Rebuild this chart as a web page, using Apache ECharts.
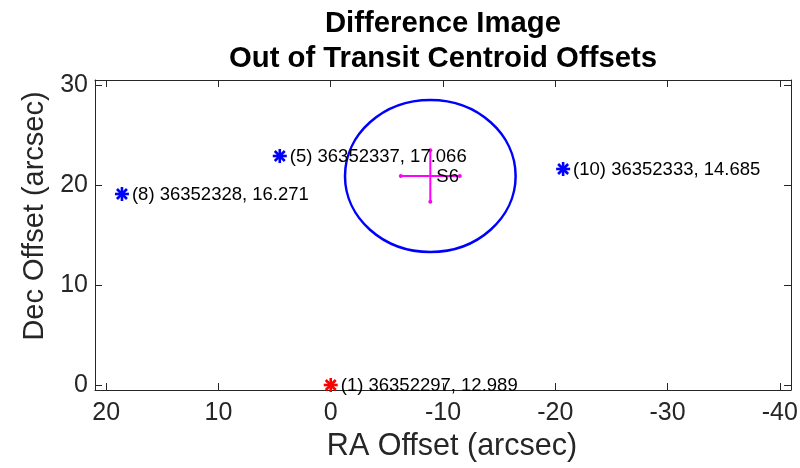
<!DOCTYPE html>
<html><head><meta charset="utf-8">
<script src="https://cdn.jsdelivr.net/npm/echarts@6/dist/echarts.min.js"></script>
<style>html,body{margin:0;padding:0;background:#fff}#c{width:800px;height:468px}</style>
</head><body><div id="c"></div>
<script>
// ---- data ----
const raOffsets = [0, 4.54, 18.6, -20.7];
const decOffsets = [0, 22.9, 19.1, 21.6];
const starLabels = ['(1) 36352297, 12.989', '(5) 36352337, 17.066', '(8) 36352328, 16.271', '(10) 36352333, 14.685'];
const starColors = ['#ff0000', '#0000ff', '#0000ff', '#0000ff'];
const centroidRa = [-8.87];
const centroidDec = [20.9];
const centroidRaErr = [2.63];
const centroidDecErr = [2.58];
const centroidLabels = ['S6'];
const circleRadius = [7.6];
const xTicks = [-40, -30, -20, -10, 0, 10, 20];
const yTicks = [0, 10, 20, 30];

const FONT = 'Liberation Sans, Arial, Helvetica, sans-serif';
const AX = '#262626';

const chart = echarts.init(document.getElementById('c'), null, {renderer: 'canvas'});

const starData = raOffsets.map((ra, i) => [ra, decOffsets[i]]);
const circleData = centroidRa.map((ra, i) => [ra, centroidDec[i], circleRadius[i]]);
const centroidData = centroidRa.map((ra, i) => [ra, centroidDec[i], centroidRaErr[i], centroidDecErr[i]]);

function baseX(pos, showLabel) {
  return {
    type: 'value', min: -41, max: 21, inverse: true, position: pos,
    axisLine: {onZero: false, lineStyle: {color: AX, width: 1}},
    axisTick: {inside: true, length: 7, customValues: xTicks, lineStyle: {color: AX, width: 1}},
    axisLabel: {show: showLabel, customValues: xTicks, fontSize: 25, color: AX, fontFamily: FONT, margin: 11},
    splitLine: {show: false}
  };
}
function baseY(pos, showLabel) {
  return {
    type: 'value', min: -0.5, max: 30.5, position: pos,
    axisLine: {onZero: false, lineStyle: {color: AX, width: 1}},
    axisTick: {inside: true, length: 7, customValues: yTicks, lineStyle: {color: AX, width: 1}},
    axisLabel: {show: showLabel, customValues: yTicks, fontSize: 25, color: AX, fontFamily: FONT, margin: 7},
    splitLine: {show: false}
  };
}

const xMain = Object.assign(baseX('bottom', true), {
  name: 'RA Offset (arcsec)', nameLocation: 'middle', nameGap: 35,
  nameTextStyle: {fontSize: 30.5, color: AX, fontFamily: FONT, padding: [0, 0, 0, 18]}
});
const yMain = Object.assign(baseY('left', true), {
  name: 'Dec Offset (arcsec)', nameLocation: 'middle', nameGap: 44,
  nameTextStyle: {fontSize: 29, color: AX, fontFamily: FONT, padding: [0, 0, 0, 38]}
});

const option = {
  animation: false,
  backgroundColor: '#fff',
  title: {
    text: 'Difference Image\nOut of Transit Centroid Offsets',
    left: 438, top: 1, textAlign: 'center',
    textStyle: {fontSize: 29.3, fontWeight: 'bold', color: '#000', fontFamily: FONT, lineHeight: 35}
  },
  grid: {left: 95, right: 9, top: 80, bottom: 78, containLabel: false, outerBoundsMode: 'none'},
  xAxis: [xMain, baseX('top', false)],
  yAxis: [yMain, baseY('right', false)],
  series: [
    {
      type: 'custom', name: 'circle', data: circleData, z: 2,
      renderItem: function (params, api) {
        const c = api.coord([api.value(0), api.value(1)]);
        const s = api.size([api.value(2), api.value(2)]);
        return {type: 'ellipse', shape: {cx: c[0], cy: c[1], rx: s[0], ry: s[1]},
          style: {fill: 'none', stroke: '#0000ff', lineWidth: 2.5}};
      }
    },
    {
      type: 'custom', name: 'centroid', data: centroidData, z: 3,
      renderItem: function (params, api) {
        const ra = api.value(0), dec = api.value(1), ex = api.value(2), ey = api.value(3);
        const c = api.coord([ra, dec]);
        const l = api.coord([ra + ex, dec]), r = api.coord([ra - ex, dec]);
        const t = api.coord([ra, dec + ey]), b = api.coord([ra, dec - ey]);
        const mag = '#ff00ff';
        const kids = [
          {type: 'line', shape: {x1: c[0] - 4, y1: c[1], x2: c[0] + 4, y2: c[1]}, style: {stroke: '#00ff00', lineWidth: 1.5}},
          {type: 'line', shape: {x1: l[0], y1: l[1], x2: r[0], y2: r[1]}, style: {stroke: mag, lineWidth: 2}},
          {type: 'line', shape: {x1: t[0], y1: t[1], x2: b[0], y2: b[1]}, style: {stroke: mag, lineWidth: 2}}
        ];
        [l, r, t, b].forEach(p => kids.push({type: 'circle', shape: {cx: p[0], cy: p[1], r: 2}, style: {fill: mag}}));
        kids.push({type: 'text', x: c[0] + 6, y: c[1] + 1, style: {text: centroidLabels[params.dataIndex], fontSize: 18.5,
          fontFamily: FONT, fill: '#000', align: 'left', verticalAlign: 'middle'}});
        return {type: 'group', children: kids};
      }
    },
    {
      type: 'custom', name: 'stars', data: starData, z: 4,
      renderItem: function (params, api) {
        const c = api.coord([api.value(0), api.value(1)]);
        const col = starColors[params.dataIndex];
        const r = 7, d = 5;
        const st = {stroke: col, lineWidth: 2.6};
        return {type: 'group', children: [
          {type: 'line', shape: {x1: c[0] - r, y1: c[1], x2: c[0] + r, y2: c[1]}, style: st},
          {type: 'line', shape: {x1: c[0], y1: c[1] - r, x2: c[0], y2: c[1] + r}, style: st},
          {type: 'line', shape: {x1: c[0] - d, y1: c[1] - d, x2: c[0] + d, y2: c[1] + d}, style: st},
          {type: 'line', shape: {x1: c[0] - d, y1: c[1] + d, x2: c[0] + d, y2: c[1] - d}, style: st},
          {type: 'text', x: c[0] + 10, y: c[1] + 1, style: {text: starLabels[params.dataIndex], fontSize: 18.5,
            fontFamily: FONT, fill: '#000', align: 'left', verticalAlign: 'middle'}}
        ]};
      }
    }
  ]
};
chart.setOption(option);
</script>
</body></html>
